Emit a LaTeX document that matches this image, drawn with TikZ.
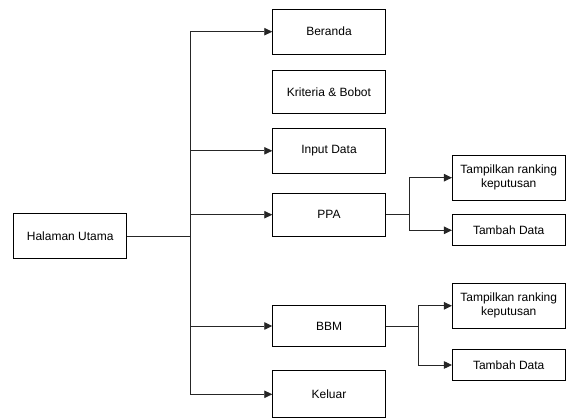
\documentclass[tikz,border=0pt]{standalone}
\usepackage{fontspec}
\setmainfont{Liberation Sans}
\usetikzlibrary{arrows.meta}
\begin{document}
\begin{tikzpicture}[x=1pt,y=-1pt,
  box/.style={draw, line width=0.9pt, inner sep=0pt, minimum width=112.6pt, align=center, font=\fontsize{12}{14}\selectfont},
  conn/.style={line width=0.9pt, draw=black!85},
  arr/.style={conn, -{Triangle[length=8pt,width=7.5pt]}}]
\useasboundingbox (0,0) rectangle (568,419);
\node[box, minimum height=45.4pt, minimum width=113pt] (hal) at (70.2,236) {Halaman Utama};
\node[box, minimum height=44.7pt] (ber) at (329,31.7) {Beranda};
\node[box, minimum height=42.7pt] (kri) at (329,92.3) {Kriteria \& Bobot};
\node[box, minimum height=45pt] (inp) at (329,150.8) {Input Data};
\node[box, minimum height=42.7pt] (ppa) at (329,214.7) {PPA};
\node[box, minimum height=40.6pt] (bbm) at (329,326) {BBM};
\node[box, minimum height=46.7pt] (kel) at (329,394.3) {Keluar};
\node[box, minimum height=45.3pt] (tr1) at (508.7,177.7) {Tampilkan ranking\\keputusan};
\node[box, minimum height=31.3pt] (td1) at (508.7,230.3) {Tambah Data};
\node[box, minimum height=45pt] (tr2) at (508.7,305.8) {Tampilkan ranking\\keputusan};
\node[box, minimum height=31.4pt] (td2) at (508.7,365) {Tambah Data};
\coordinate (top) at (190,31.7);
\coordinate (bot) at (190,394.3);
\coordinate (mid) at (190,236);
\draw[conn] (top) -- (bot);
\draw[conn] (hal.east) -- (mid);
\draw[arr] (top) -- (ber.west);
\draw[arr] (190,150.8) -- (inp.west);
\draw[arr] (190,214.7) -- (ppa.west);
\draw[arr] (190,326) -- (bbm.west);
\draw[arr] (bot) -- (kel.west);
\coordinate (b1) at (409.7,214.7);
\draw[conn, line width=1.6pt] (ppa.east) -- (b1);
\draw[arr] (b1) |- (tr1.west);
\draw[arr] (b1) |- (td1.west);
\coordinate (b2) at (418.7,326);
\draw[conn] (bbm.east) -- (b2);
\draw[arr] (b2) |- (tr2.west);
\draw[arr] (b2) |- (td2.west);
\end{tikzpicture}
\end{document}
